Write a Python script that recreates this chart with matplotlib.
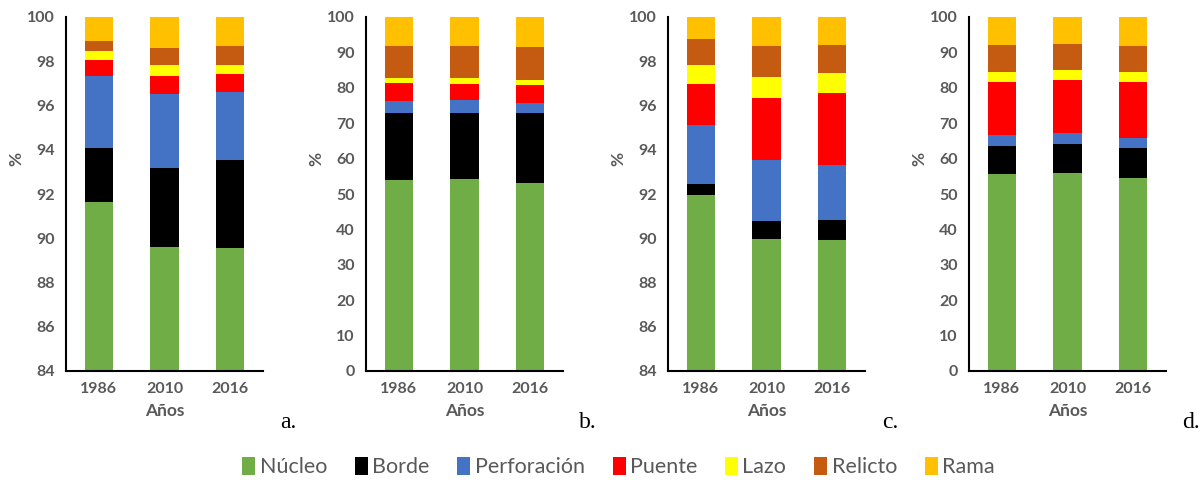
import matplotlib.pyplot as plt
from matplotlib.patches import Patch

# Años y clases de fragmentos
anios = ['1986', '2010', '2016']
clases = ['Núcleo', 'Borde', 'Perforación', 'Puente', 'Lazo', 'Relicto', 'Rama']
colores = ['#70AD47', '#000000', '#4472C4', '#FF0000', '#FFFF00', '#C55A11', '#FFC000']

# Porcentaje por clase (filas: clases, columnas: años)
panel_a = [
    [91.64, 89.62, 89.58],
    [2.46, 3.55, 3.95],
    [3.23, 3.35, 3.09],
    [0.72, 0.81, 0.79],
    [0.41, 0.48, 0.40],
    [0.47, 0.79, 0.86],
    [1.07, 1.40, 1.33],
]
panel_b = [
    [54.0, 54.3, 53.0],
    [18.95, 18.65, 19.8],
    [3.3, 3.65, 2.9],
    [5.0, 4.45, 5.0],
    [1.5, 1.8, 1.5],
    [9.15, 9.05, 9.4],
    [8.1, 8.1, 8.4],
]
panel_c = [
    [91.95, 89.97, 89.94],
    [0.52, 0.80, 0.89],
    [2.66, 2.77, 2.50],
    [1.84, 2.81, 3.22],
    [0.84, 0.94, 0.91],
    [1.19, 1.38, 1.28],
    [1.00, 1.33, 1.26],
]
panel_d = [
    [55.6, 55.9, 54.5],
    [8.1, 8.3, 8.6],
    [3.1, 3.1, 2.7],
    [14.7, 14.8, 15.7],
    [3.1, 3.0, 2.9],
    [7.5, 7.4, 7.5],
    [7.9, 7.5, 8.1],
]

paneles = [
    (panel_a, 'a.', (84, 100), range(84, 101, 2)),
    (panel_b, 'b.', (0, 100), range(0, 101, 10)),
    (panel_c, 'c.', (84, 100), range(84, 101, 2)),
    (panel_d, 'd.', (0, 100), range(0, 101, 10)),
]

plt.rcParams['font.family'] = ['Lato', 'DejaVu Sans']
gris = '#595959'
fig = plt.figure(figsize=(12.01, 4.8), dpi=100)
izquierdas = [66, 366, 668, 969]

for (datos, letra, ylim, yticks), x0 in zip(paneles, izquierdas):
    ax = fig.add_axes([x0 / 1201, 1 - 371 / 480, 197 / 1201, 354 / 480])
    base = [0.0] * len(anios)
    for valores, color in zip(datos, colores):
        ax.bar(range(len(anios)), valores, bottom=base, width=0.43, color=color)
        base = [b + v for b, v in zip(base, valores)]
    ax.set_xlim(-0.5, 2.5)
    ax.set_ylim(*ylim)
    ax.set_yticks(list(yticks))
    ax.set_xticks(range(len(anios)))
    ax.set_xticklabels(anios)
    for s in ['top', 'right']:
        ax.spines[s].set_visible(False)
    for s in ['left', 'bottom']:
        ax.spines[s].set_linewidth(1.5)
    ax.tick_params(length=0, labelsize=11.5, labelcolor=gris, pad=8)
    for lbl in ax.get_xticklabels() + ax.get_yticklabels():
        lbl.set_fontweight('bold')
    ax.set_xlabel('Años', fontsize=12.5, color=gris, fontweight='bold', labelpad=5)
    ax.set_ylabel('%', fontsize=12.5, color=gris, fontweight='bold')
    ax.yaxis.set_label_coords(-0.21, 0.6)
    ax.text(1.17, -0.145, letra, transform=ax.transAxes, fontsize=17,
            family='Liberation Serif', ha='right', va='center')

handles = [Patch(facecolor=c, label=n) for c, n in zip(colores, clases)]
leg = fig.legend(handles=handles, loc='center', bbox_to_anchor=(0.515, 0.027),
                 ncol=7, frameon=False, fontsize=15.5, handlelength=0.6,
                 handleheight=0.9, handletextpad=0.2, columnspacing=1.3)
for t in leg.get_texts():
    t.set_color(gris)

fig.savefig('out.png', dpi=100)
